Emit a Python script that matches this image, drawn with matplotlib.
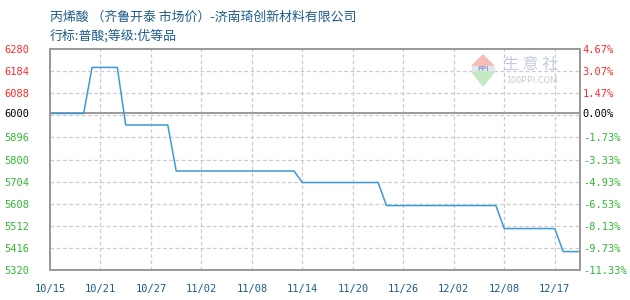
import matplotlib
matplotlib.use("Agg")
import matplotlib.pyplot as plt
from matplotlib.patches import Polygon, Rectangle

plt.rcParams['font.family'] = ['Noto Sans CJK SC', 'DejaVu Sans']

title = "丙烯酸 （齐鲁开泰 市场价）-济南琦创新材料有限公司"
subtitle = "行标:普酸;等级:优等品"

dates = [
    "10/15", "10/16", "10/17", "10/18", "10/19", "10/20", "10/21", "10/22",
    "10/23", "10/24", "10/25", "10/26", "10/27", "10/28", "10/29", "10/30",
    "10/31", "11/01", "11/02", "11/03", "11/04", "11/05", "11/06", "11/07",
    "11/08", "11/09", "11/10", "11/11", "11/12", "11/13", "11/14", "11/15",
    "11/16", "11/17", "11/18", "11/19", "11/20", "11/21", "11/22", "11/23",
    "11/24", "11/25", "11/26", "11/27", "11/28", "11/29", "11/30", "12/01",
    "12/02", "12/03", "12/04", "12/05", "12/06", "12/07", "12/08", "12/09",
    "12/10", "12/11", "12/12", "12/15", "12/17", "12/18", "12/19", "12/20",
]
prices = [
    6000, 6000, 6000, 6000, 6000,
    6200, 6200, 6200, 6200,
    5950, 5950, 5950, 5950, 5950, 5950,
    5750, 5750, 5750, 5750, 5750, 5750, 5750, 5750, 5750, 5750, 5750, 5750, 5750, 5750, 5750,
    5700, 5700, 5700, 5700, 5700, 5700, 5700, 5700, 5700, 5700,
    5600, 5600, 5600, 5600, 5600, 5600, 5600, 5600, 5600, 5600, 5600, 5600, 5600, 5600,
    5500, 5500, 5500, 5500, 5500, 5500, 5500,
    5400, 5400, 5400,
]
base_price = 6000
left_ticks = [6280, 6184, 6088, 6000, 5896, 5800, 5704, 5608, 5512, 5416, 5320]
right_labels = ["4.67%", "3.07%", "1.47%", "0.00%", "-1.73%", "-3.33%", "-4.93%",
                "-6.53%", "-8.13%", "-9.73%", "-11.33%"]
x_tick_labels = ["10/15", "10/21", "10/27", "11/02", "11/08", "11/14", "11/20",
                 "11/26", "12/02", "12/08", "12/17"]

RED = "#ff2a2a"
GREEN = "#33b833"
BLUE_TXT = "#1d5c8c"
GRAY = "#9a9a9a"

fig = plt.figure(figsize=(6.3, 3.0), dpi=100)
ax = fig.add_axes([50/630, 30/300, 530/630, 221/300])

xs = list(range(len(prices)))
ax.plot(xs, prices, color="#3b9ad8", lw=1.1, zorder=3)

ymin, ymax = left_ticks[-1], left_ticks[0]
ax.set_ylim(ymin, ymax)
ax.set_xlim(0, len(prices) - 1)

# grid
step = left_ticks[0] - left_ticks[1]
g = ymax - step
while g > ymin:
    ax.axhline(g, color="#cccccc", ls=(0, (3, 2)), lw=0.9, zorder=1)
    g -= step
ax.axhline(base_price, color=GRAY, lw=1.4, zorder=2)

tick_idx = [dates.index(d) for d in x_tick_labels]
for i in tick_idx[1:]:
    ax.axvline(i, color="#cccccc", ls=(0, (3, 2)), lw=0.9, zorder=1)

ax.set_xticks(tick_idx)
ax.set_xticklabels(x_tick_labels, color=BLUE_TXT, fontsize=7.5, family="DejaVu Sans Mono")
ax.tick_params(axis="x", length=0, pad=10)

ax.set_yticks(left_ticks)
ax.set_yticklabels([str(v) for v in left_ticks], fontsize=7.5, family="DejaVu Sans Mono")
ax.tick_params(axis="y", length=0, pad=15)
for lbl, v in zip(ax.get_yticklabels(), left_ticks):
    lbl.set_color(RED if v > base_price else ("black" if v == base_price else GREEN))

ax2 = ax.twinx()
ax2.set_ylim(ymin, ymax)
ax2.set_yticks(left_ticks)
ax2.set_yticklabels(right_labels, fontsize=7.5, family="DejaVu Sans Mono")
ax2.tick_params(axis="y", length=0, pad=2)
for lbl, v in zip(ax2.get_yticklabels(), left_ticks):
    lbl.set_color(RED if v > base_price else ("black" if v == base_price else GREEN))

for a in (ax, ax2):
    for s in a.spines.values():
        s.set_color(GRAY)
        s.set_linewidth(1.3)

fig.text(50/630, 1 - 17/300, title, color=BLUE_TXT, fontsize=9.3, va="center", ha="left")
fig.text(50/630, 1 - 36/300, subtitle, color=BLUE_TXT, fontsize=9.3, va="center", ha="left")

# watermark
def fx(px):
    return px / 630

def fy(py):
    return 1 - py / 300

tri_up = Polygon([[fx(483), fy(55)], [fx(472), fy(66)], [fx(494), fy(66)]],
                 closed=True, transform=fig.transFigure, color="#f7bcb6", zorder=0)
band = Rectangle((fx(472), fy(71)), fx(22), 5/300, transform=fig.transFigure,
                 color="#e4e8f2", zorder=0)
tri_dn = Polygon([[fx(472), fy(72)], [fx(494), fy(72)], [fx(483), fy(86)]],
                 closed=True, transform=fig.transFigure, color="#c3e8c3", zorder=0)
fig.patches.extend([tri_up, band, tri_dn])
fig.text(fx(483), fy(68.5), "PPI", color="#8e9bc4", fontsize=5, ha="center", va="center",
         weight="bold")
fig.text(fx(531), fy(65), "生 意 社", color="#c4cbe0", fontsize=11.5, ha="center", va="center")
fig.text(fx(532), fy(80.5), "100PPI.COM", color="#c9cbd3", fontsize=6.5, ha="center", va="center")

fig.savefig("out.png", dpi=100)
